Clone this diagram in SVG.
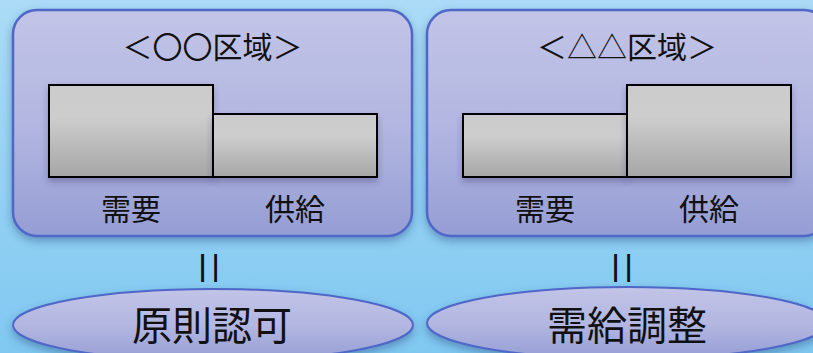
<svg xmlns="http://www.w3.org/2000/svg" width="813" height="353" viewBox="0 0 813 353">
<style>
  text { font-family: "Noto Sans CJK JP", "Noto Sans", sans-serif; fill: #111; text-anchor: middle; }
  .title { font-size: 30px; }
  .lbl { font-size: 30px; }
  .big { font-size: 40px; }
  .eq { font-size: 38px; font-weight: 300; }
  .panel { fill: url(#panelGrad); stroke: #4f67c8; stroke-width: 2.5; filter: url(#shadow); }
  .bar { fill: url(#barGrad); stroke: #000; stroke-width: 2; filter: url(#barShadow); }
  .oval { fill: url(#panelGrad); stroke: #4f67c8; stroke-width: 2; filter: url(#shadow); }
</style>
<defs>
  <linearGradient id="bgGrad" x1="0" y1="0" x2="0" y2="1">
    <stop offset="0" stop-color="#abdbf6"/>
    <stop offset="1" stop-color="#80c8f1"/>
  </linearGradient>
  <linearGradient id="panelGrad" x1="0" y1="0" x2="0" y2="1">
    <stop offset="0" stop-color="#c2c4e7"/>
    <stop offset="0.5" stop-color="#b3b7e1"/>
    <stop offset="1" stop-color="#959dd4"/>
  </linearGradient>
  <linearGradient id="barGrad" x1="0" y1="0" x2="0" y2="1">
    <stop offset="0" stop-color="#cbcbcb"/>
    <stop offset="0.35" stop-color="#cdcdcd"/>
    <stop offset="1" stop-color="#a6a6a6"/>
  </linearGradient>
  <filter id="shadow" x="-10%" y="-10%" width="120%" height="130%">
    <feGaussianBlur in="SourceAlpha" stdDeviation="4"/>
    <feOffset dx="0" dy="4" result="b"/>
    <feFlood flood-color="#2a4a80" flood-opacity="0.45"/>
    <feComposite in2="b" operator="in"/>
    <feMerge><feMergeNode/><feMergeNode in="SourceGraphic"/></feMerge>
  </filter>
  <filter id="barShadow" x="-10%" y="-10%" width="120%" height="140%">
    <feGaussianBlur in="SourceAlpha" stdDeviation="3"/>
    <feOffset dx="0" dy="4" result="b"/>
    <feFlood flood-color="#303060" flood-opacity="0.35"/>
    <feComposite in2="b" operator="in"/>
    <feMerge><feMergeNode/><feMergeNode in="SourceGraphic"/></feMerge>
  </filter>
</defs>

<rect x="0" y="0" width="813" height="353" fill="url(#bgGrad)"/>

<g id="region-oo">
  <rect class="panel" x="13" y="10" width="399" height="226" rx="24" ry="24"/>
  <text class="title" x="212.5" y="58">＜〇〇区域＞</text>
  <rect class="bar" x="49" y="85" width="164" height="92"/>
  <rect class="bar" x="213" y="114" width="164" height="63"/>
  <text class="lbl" x="131" y="220">需要</text>
  <text class="lbl" x="295" y="220">供給</text>
</g>

<g id="region-tt">
  <rect class="panel" x="427" y="10" width="401" height="226" rx="24" ry="24"/>
  <text class="title" x="627" y="58">＜△△区域＞</text>
  <rect class="bar" x="463" y="114" width="164" height="63"/>
  <rect class="bar" x="627" y="85" width="164" height="92"/>
  <text class="lbl" x="545" y="220">需要</text>
  <text class="lbl" x="709" y="220">供給</text>
</g>

<g id="connectors">
  <text class="eq" transform="translate(213 268) rotate(90) scale(1 1.5)" dominant-baseline="central">＝</text>
  <text class="eq" transform="translate(626 268) rotate(90) scale(1 1.5)" dominant-baseline="central">＝</text>
</g>

<g id="result-approval">
  <ellipse class="oval" cx="213" cy="325" rx="200" ry="36"/>
  <text class="big" x="212" y="340">原則認可</text>
</g>

<g id="result-adjust">
  <ellipse class="oval" cx="627" cy="323" rx="200" ry="36"/>
  <text class="big" x="627" y="340">需給調整</text>
</g>
</svg>
